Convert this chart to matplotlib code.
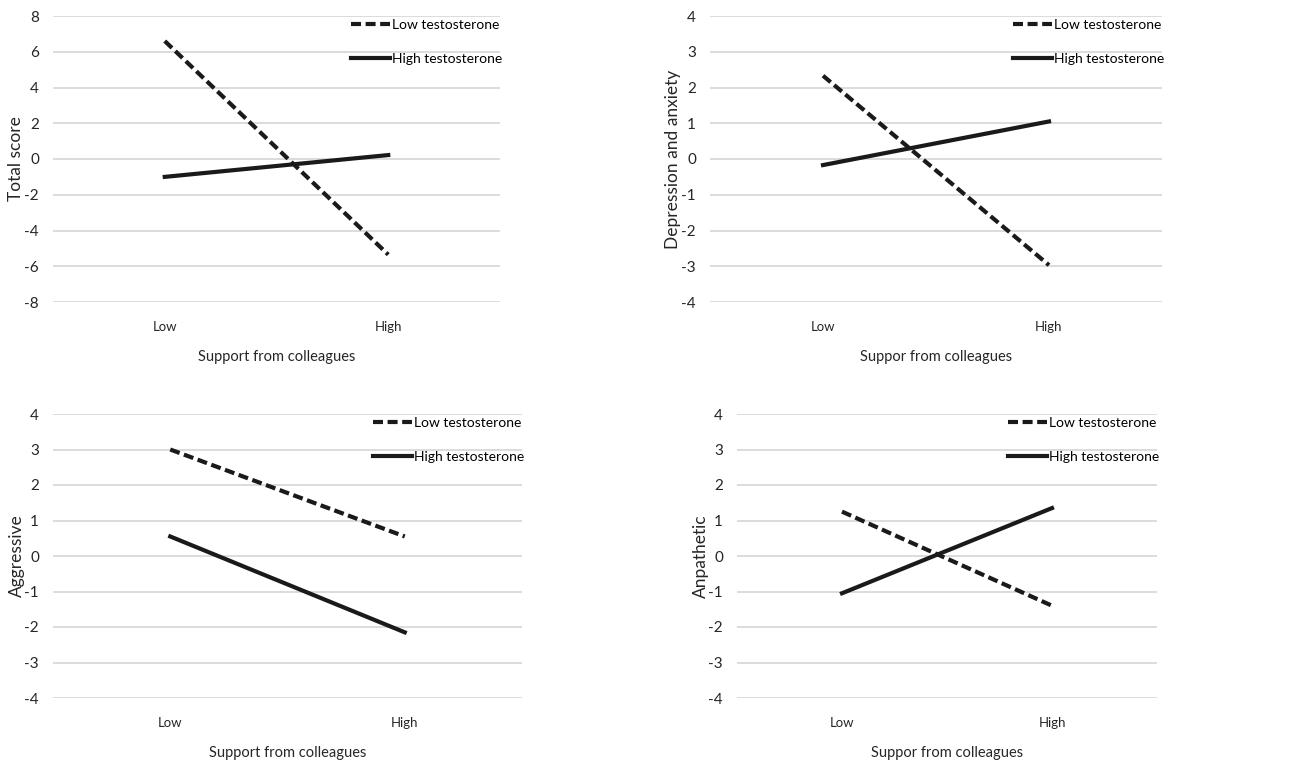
import numpy as np
import matplotlib
matplotlib.use("Agg")
import matplotlib.pyplot as plt

plt.rcParams['font.family'] = ['Lato', 'DejaVu Sans']

categories = ["Low", "High"]
series_names = ["Low testosterone", "High testosterone"]

total_low = [6.6, -5.35]
total_high = [-1.0, 0.22]
dep_low = [2.33, -2.97]
dep_high = [-0.17, 1.05]
agg_low = [3.0, 0.55]
agg_high = [0.55, -2.15]
apa_low = [1.25, -1.4]
apa_high = [-1.05, 1.35]

panels = [
    # (left, top, right, bottom) in px, ylim, ticks, ylabel, xlabel, low, high
    ((53, 16, 500, 302), (-8, 8), np.arange(-8, 9, 2), "Total score",
     "Support from colleagues", total_low, total_high),
    ((710, 16, 1162, 302), (-4, 4), np.arange(-4, 5, 1), "Depression and anxiety",
     "Suppor from colleagues", dep_low, dep_high),
    ((53, 414, 522, 698), (-4, 4), np.arange(-4, 5, 1), "Aggressive",
     "Support from colleagues", agg_low, agg_high),
    ((737, 414, 1157, 698), (-4, 4), np.arange(-4, 5, 1), "Anpathetic",
     "Suppor from colleagues", apa_low, apa_high),
]

W, H = 1299, 764
fig = plt.figure(figsize=(W / 100, H / 100), dpi=100)

for (l, t, r, b), ylim, ticks, ylab, xlab, low, high in panels:
    ax = fig.add_axes([l / W, (H - b) / H, (r - l) / W, (b - t) / H])
    x = np.arange(len(categories))
    ax.plot(x, low, color='#1a1a1a', lw=3, ls=(0, (2.4, 1.1)), label=series_names[0])
    ax.plot(x, high, color='#1a1a1a', lw=3, label=series_names[1])
    ax.set_xlim(-0.5, 1.5)
    ax.set_ylim(*ylim)
    ax.set_yticks(ticks)
    ax.set_yticklabels([str(int(v)) for v in ticks])
    ax.set_xticks(x)
    ax.set_xticklabels(categories)
    ax.grid(axis='y', color='#d9d9d9', lw=1.3)
    ax.set_axisbelow(True)
    for s in ax.spines.values():
        s.set_visible(False)
    ax.tick_params(length=0, colors='#262626')
    ax.tick_params(axis='y', labelsize=11, pad=10)
    ax.tick_params(axis='x', labelsize=9.5, pad=14)
    ax.set_ylabel(ylab, fontsize=12.5, color='#262626', labelpad=0)
    ax.set_xlabel(xlab, fontsize=10.5, color='#262626', labelpad=12)
    ax.legend(loc='upper right', bbox_to_anchor=(1.005, 0.99), frameon=False,
              fontsize=10, handlelength=2.8, handletextpad=0.15, labelspacing=1.6,
              borderpad=0, borderaxespad=0)

fig.savefig("out.png", dpi=100, facecolor='white')
